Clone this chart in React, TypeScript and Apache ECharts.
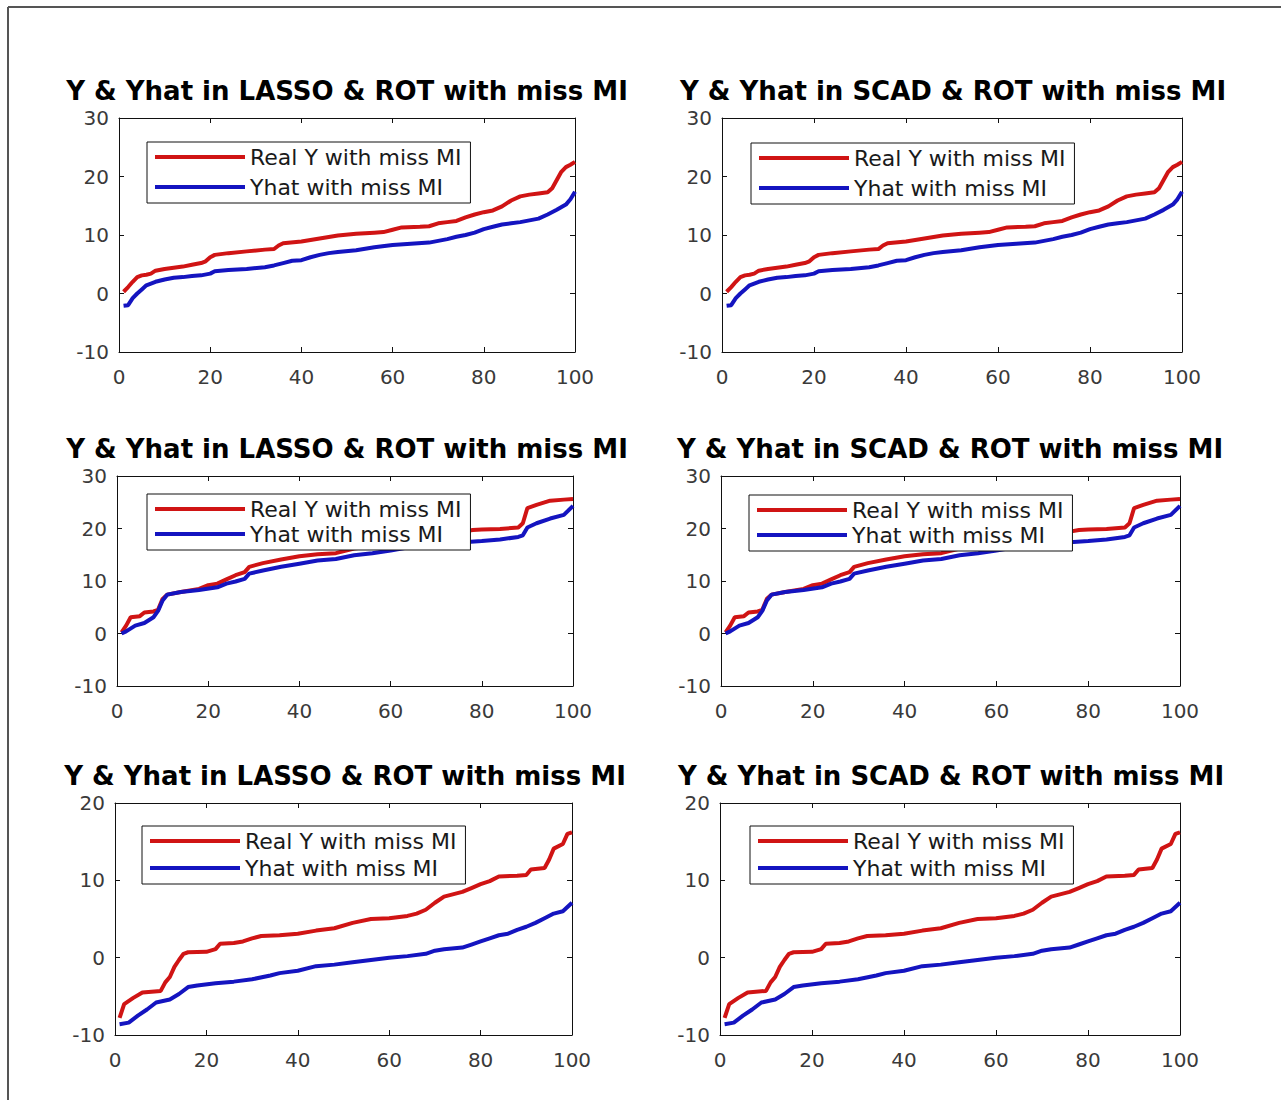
import React, { useEffect, useRef } from 'react';
import * as echarts from 'echarts';

const TITLE_LASSO = 'Y & Yhat in LASSO & ROT with miss MI';
const TITLE_SCAD = 'Y & Yhat in SCAD & ROT with miss MI';
const NAME_REAL = 'Real Y with miss MI';
const NAME_HAT = 'Yhat with miss MI';

const X_MIN = 0;
const X_MAX = 100;
const X_STEP = 20;
const Y_STEP = 10;
const Y_RANGE_TOP: [number, number] = [-10, 30];
const Y_RANGE_BOTTOM: [number, number] = [-10, 20];

// Row 1 (sorted values, point index -> value)
const row1Real: [number, number][] = [
  [1, 0.3], [2, 1.1], [3, 2], [4, 2.8], [5, 3.1], [6, 3.2], [7, 3.4], [8, 3.9],
  [10, 4.2], [12, 4.4], [14, 4.6], [16, 4.9], [18, 5.2], [19, 5.5], [20, 6.2], [21, 6.6],
  [24, 6.9], [28, 7.2], [32, 7.5], [34, 7.6], [35, 8.2], [36, 8.6], [40, 8.9],
  [44, 9.4], [48, 9.9], [52, 10.2], [56, 10.4], [58, 10.5], [60, 10.9], [62, 11.3],
  [66, 11.4], [68, 11.5], [70, 12], [72, 12.2], [74, 12.4], [76, 13], [78, 13.5], [80, 13.9],
  [82, 14.2], [84, 14.9], [86, 15.9], [88, 16.6], [90, 16.9], [92, 17.1], [94, 17.3], [95, 18],
  [96, 19.4], [97, 20.8], [98, 21.6], [99, 22], [100, 22.5],
];
const row1Hat: [number, number][] = [
  [1, -2.1], [2, -2], [3, -0.8], [4, 0], [5, 0.7], [6, 1.4], [8, 2], [10, 2.4],
  [12, 2.7], [14, 2.8], [16, 3], [18, 3.1], [20, 3.4], [21, 3.8], [24, 4], [28, 4.2],
  [32, 4.5], [34, 4.8], [36, 5.2], [38, 5.6], [40, 5.7], [42, 6.2], [44, 6.6], [46, 6.9],
  [48, 7.1], [52, 7.4], [56, 7.9], [60, 8.3], [64, 8.5], [68, 8.7], [70, 9], [72, 9.3],
  [74, 9.7], [76, 10], [78, 10.4], [80, 11], [82, 11.4], [84, 11.8], [86, 12], [88, 12.2],
  [90, 12.5], [92, 12.8], [94, 13.5], [96, 14.3], [98, 15.2], [99, 16.1], [100, 17.4],
];

// Row 2
const row2Real: [number, number][] = [
  [1, 0.2], [2, 1.5], [3, 3.1], [5, 3.3], [6, 4], [8, 4.2], [9, 4.5], [10, 6.6],
  [11, 7.4], [14, 7.9], [18, 8.5], [20, 9.2], [22, 9.5], [24, 10.3], [26, 11.1], [28, 11.7],
  [29, 12.7], [32, 13.4], [36, 14.1], [40, 14.7], [44, 15.1], [48, 15.3], [52, 16.2],
  [56, 16.6], [60, 17], [64, 17.4], [68, 18.1], [72, 18.4], [76, 19.4], [78, 19.7],
  [80, 19.8], [84, 19.9], [88, 20.2], [89, 21], [90, 23.9], [92, 24.5], [95, 25.3],
  [98, 25.5], [100, 25.6],
];
const row2Hat: [number, number][] = [
  [1, 0], [2, 0.4], [4, 1.5], [6, 2], [8, 3.1], [9, 4.3], [10, 6.3], [11, 7.4],
  [14, 7.9], [18, 8.3], [22, 8.8], [24, 9.5], [26, 9.9], [28, 10.4], [29, 11.4], [32, 12],
  [36, 12.7], [40, 13.3], [44, 13.9], [48, 14.2], [52, 14.9], [56, 15.3], [60, 15.8],
  [64, 16.4], [68, 16.8], [72, 17], [76, 17.4], [80, 17.6], [84, 17.9], [88, 18.4],
  [89, 18.7], [90, 20.2], [92, 21], [95, 21.9], [98, 22.6], [100, 24.3],
];

// Row 3
const row3Real: [number, number][] = [
  [1, -7.8], [2, -6], [4, -5.2], [6, -4.5], [10, -4.3], [11, -3.2], [12, -2.5], [13, -1.2],
  [14, -0.3], [15, 0.5], [16, 0.7], [20, 0.75], [22, 1.1], [23, 1.8], [26, 1.9], [28, 2.1],
  [30, 2.5], [32, 2.8], [36, 2.9], [40, 3.1], [44, 3.5], [48, 3.8], [52, 4.5], [56, 5],
  [60, 5.1], [64, 5.4], [66, 5.7], [68, 6.2], [70, 7.1], [72, 7.9], [76, 8.5], [78, 9],
  [80, 9.5], [82, 9.9], [84, 10.5], [88, 10.6], [90, 10.7], [91, 11.4], [94, 11.6],
  [95, 12.7], [96, 14.1], [98, 14.7], [99, 16], [100, 16.2],
];
const row3Hat: [number, number][] = [
  [1, -8.6], [3, -8.4], [5, -7.5], [7, -6.7], [9, -5.8], [12, -5.4], [14, -4.7], [16, -3.8],
  [18, -3.6], [22, -3.3], [26, -3.1], [30, -2.8], [34, -2.3], [36, -2], [40, -1.7],
  [44, -1.1], [48, -0.9], [52, -0.6], [56, -0.3], [60, 0], [64, 0.2], [68, 0.5], [70, 0.9],
  [72, 1.1], [76, 1.3], [78, 1.7], [80, 2.1], [82, 2.5], [84, 2.9], [86, 3.1], [88, 3.6],
  [90, 4], [92, 4.5], [94, 5.1], [96, 5.7], [98, 6], [100, 7.1],
];

const FONT = 'DejaVu Sans';
const RED = '#d01414';
const BLUE = '#1414c0';

type Panel = {
  title: string;
  grid: { left: number; top: number; width: number; height: number };
  titleX: number;
  titleY: number;
  legend: { left: number; top: number; gap: number };
  yRange: [number, number];
  real: [number, number][];
  hat: [number, number][];
};

const PANELS: Panel[] = [
  { title: TITLE_LASSO, grid: { left: 119, top: 118, width: 456, height: 234 }, titleX: 347, titleY: 78,
    legend: { left: 147, top: 142, gap: 6 }, yRange: Y_RANGE_TOP, real: row1Real, hat: row1Hat },
  { title: TITLE_SCAD, grid: { left: 722, top: 118, width: 460, height: 234 }, titleX: 953, titleY: 78,
    legend: { left: 751, top: 143, gap: 6 }, yRange: Y_RANGE_TOP, real: row1Real, hat: row1Hat },
  { title: TITLE_LASSO, grid: { left: 117, top: 476, width: 456, height: 210 }, titleX: 347, titleY: 436,
    legend: { left: 147, top: 494, gap: 1 }, yRange: Y_RANGE_TOP, real: row2Real, hat: row2Hat },
  { title: TITLE_SCAD, grid: { left: 721, top: 476, width: 459, height: 210 }, titleX: 950, titleY: 436,
    legend: { left: 749, top: 495, gap: 1 }, yRange: Y_RANGE_TOP, real: row2Real, hat: row2Hat },
  { title: TITLE_LASSO, grid: { left: 115, top: 803, width: 457, height: 232 }, titleX: 345, titleY: 763,
    legend: { left: 142, top: 826, gap: 3 }, yRange: Y_RANGE_BOTTOM, real: row3Real, hat: row3Hat },
  { title: TITLE_SCAD, grid: { left: 720, top: 803, width: 460, height: 232 }, titleX: 951, titleY: 763,
    legend: { left: 750, top: 826, gap: 3 }, yRange: Y_RANGE_BOTTOM, real: row3Real, hat: row3Hat },
];

function buildOption() {
  const grid: any[] = [];
  const xAxis: any[] = [];
  const yAxis: any[] = [];
  const series: any[] = [];
  const title: any[] = [];
  const legend: any[] = [];

  const axisLine = { show: true, onZero: false, lineStyle: { color: '#111', width: 1 } };
  const tick = { show: true, inside: true, length: 5, lineStyle: { color: '#111', width: 1 } };
  const label = { color: '#3a3a3a', fontFamily: FONT, fontSize: 20, lineHeight: 18 };

  PANELS.forEach((p, i) => {
    grid.push({ ...p.grid, containLabel: false, show: true, backgroundColor: '#fff', borderWidth: 0 });
    xAxis.push({
      type: 'value', gridIndex: i, min: X_MIN, max: X_MAX, interval: X_STEP, position: 'bottom',
      axisLine, axisTick: tick, splitLine: { show: false },
      axisLabel: { ...label, margin: 16 },
    });
    xAxis.push({
      type: 'value', gridIndex: i, min: X_MIN, max: X_MAX, interval: X_STEP, position: 'top',
      axisLine, axisTick: tick, splitLine: { show: false }, axisLabel: { show: false },
    });
    yAxis.push({
      type: 'value', gridIndex: i, min: p.yRange[0], max: p.yRange[1], interval: Y_STEP, position: 'left',
      axisLine, axisTick: tick, splitLine: { show: false },
      axisLabel: { ...label, margin: 10 },
    });
    yAxis.push({
      type: 'value', gridIndex: i, min: p.yRange[0], max: p.yRange[1], interval: Y_STEP, position: 'right',
      axisLine, axisTick: tick, splitLine: { show: false }, axisLabel: { show: false },
    });
    series.push({
      type: 'line', name: NAME_REAL, xAxisIndex: i * 2, yAxisIndex: i * 2, data: p.real,
      symbol: 'none', lineStyle: { color: RED, width: 4 }, itemStyle: { color: RED }, z: 2,
    });
    series.push({
      type: 'line', name: NAME_HAT, xAxisIndex: i * 2, yAxisIndex: i * 2, data: p.hat,
      symbol: 'none', lineStyle: { color: BLUE, width: 4 }, itemStyle: { color: BLUE }, z: 3,
    });
    title.push({
      text: p.title, left: p.titleX, top: p.titleY, textAlign: 'center', padding: 0,
      textStyle: { fontFamily: FONT, fontSize: 26, lineHeight: 26, fontWeight: 'bold', color: '#000' },
    });
    legend.push({
      data: [NAME_REAL, NAME_HAT], left: p.legend.left, top: p.legend.top, orient: 'vertical',
      icon: 'rect', itemWidth: 90, itemHeight: 4, itemGap: p.legend.gap, itemTextGap: 4,
      padding: [3, 9, 4, 8], borderColor: '#111', borderWidth: 1, backgroundColor: '#fff',
      selectedMode: false, z: 10,
      textStyle: { fontFamily: FONT, fontSize: 22, color: '#1a1a1a', lineHeight: 24 },
    });
  });

  return {
    animation: false,
    backgroundColor: '#fff',
    grid, xAxis, yAxis, series, title, legend,
    graphic: [
      { type: 'line', shape: { x1: 8, y1: 7, x2: 1281, y2: 7 }, style: { stroke: '#555', lineWidth: 2 } },
      { type: 'line', shape: { x1: 8, y1: 7, x2: 8, y2: 1100 }, style: { stroke: '#555', lineWidth: 2 } },
    ],
  };
}

export default function App() {
  const ref = useRef<HTMLDivElement>(null);
  useEffect(() => {
    if (!ref.current) return;
    const chart = echarts.init(ref.current, null, { renderer: 'svg' });
    chart.setOption(buildOption() as any);
    return () => chart.dispose();
  }, []);
  return (
    <div
      ref={ref}
      style={{ position: 'absolute', left: 0, top: 0, width: 1281, height: 1100 }}
    />
  );
}
